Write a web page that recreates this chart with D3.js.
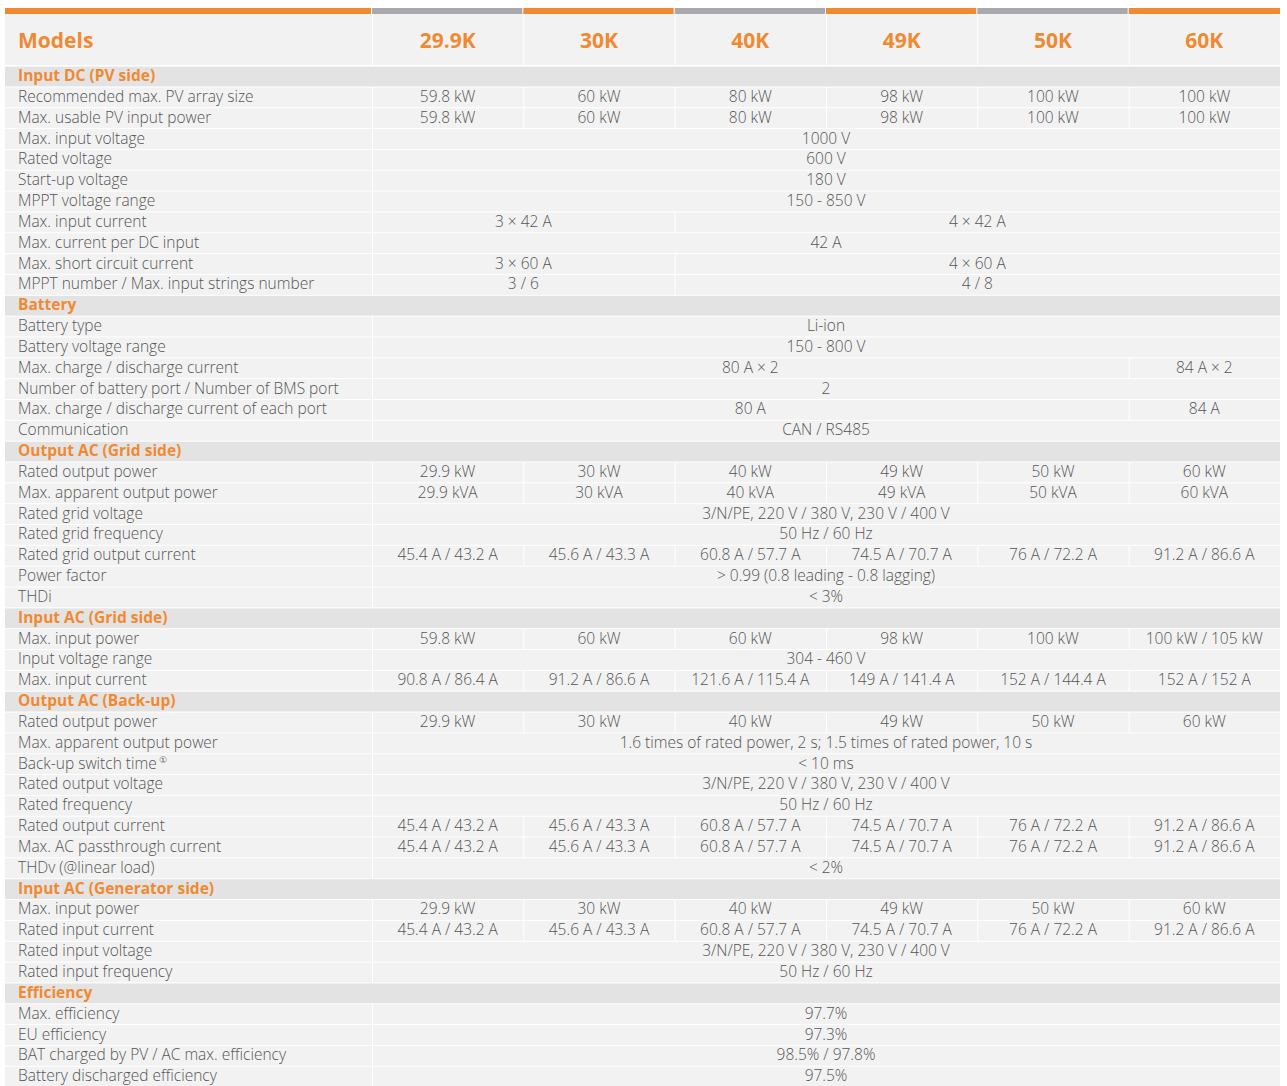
<!DOCTYPE html>
<html><head><meta charset="utf-8">
<script src="https://cdn.jsdelivr.net/npm/d3@7"></script>
<style>body{margin:0;background:#fff}</style>
</head><body><div id="mainDiv"></div>
<script>
var models = ["29.9K", "30K", "40K", "49K", "50K", "60K"];
var barColors = ["#f08a32", "#a7a9ac", "#f08a32", "#a7a9ac", "#f08a32", "#a7a9ac", "#f08a32"];

// rows: section title as string, or [label, [[text, span], ...]]
var rows = [
  "Input DC (PV side)",
  ["Recommended max. PV array size", [["59.8 kW",1],["60 kW",1],["80 kW",1],["98 kW",1],["100 kW",1],["100 kW",1]]],
  ["Max. usable PV input power", [["59.8 kW",1],["60 kW",1],["80 kW",1],["98 kW",1],["100 kW",1],["100 kW",1]]],
  ["Max. input voltage", [["1000 V",6]]],
  ["Rated voltage", [["600 V",6]]],
  ["Start-up voltage", [["180 V",6]]],
  ["MPPT voltage range", [["150 - 850 V",6]]],
  ["Max. input current", [["3 × 42 A",2],["4 × 42 A",4]]],
  ["Max. current per DC input", [["42 A",6]]],
  ["Max. short circuit current", [["3 × 60 A",2],["4 × 60 A",4]]],
  ["MPPT number / Max. input strings number", [["3 / 6",2],["4 / 8",4]]],
  "Battery",
  ["Battery type", [["Li-ion",6]]],
  ["Battery voltage range", [["150 - 800 V",6]]],
  ["Max. charge / discharge current", [["80 A × 2",5],["84 A × 2",1]]],
  ["Number of battery port / Number of BMS port", [["2",6]]],
  ["Max. charge / discharge current of each port", [["80 A",5],["84 A",1]]],
  ["Communication", [["CAN / RS485",6]]],
  "Output AC (Grid side)",
  ["Rated output power", [["29.9 kW",1],["30 kW",1],["40 kW",1],["49 kW",1],["50 kW",1],["60 kW",1]]],
  ["Max. apparent output power", [["29.9 kVA",1],["30 kVA",1],["40 kVA",1],["49 kVA",1],["50 kVA",1],["60 kVA",1]]],
  ["Rated grid voltage", [["3/N/PE, 220 V / 380 V, 230 V / 400 V",6]]],
  ["Rated grid frequency", [["50 Hz / 60 Hz",6]]],
  ["Rated grid output current", [["45.4 A / 43.2 A",1],["45.6 A / 43.3 A",1],["60.8 A / 57.7 A",1],["74.5 A / 70.7 A",1],["76 A / 72.2 A",1],["91.2 A / 86.6 A",1]]],
  ["Power factor", [["> 0.99 (0.8 leading - 0.8 lagging)",6]]],
  ["THDi", [["< 3%",6]]],
  "Input AC (Grid side)",
  ["Max. input power", [["59.8 kW",1],["60 kW",1],["60 kW",1],["98 kW",1],["100 kW",1],["100 kW / 105 kW",1]]],
  ["Input voltage range", [["304 - 460 V",6]]],
  ["Max. input current", [["90.8 A / 86.4 A",1],["91.2 A / 86.6 A",1],["121.6 A / 115.4 A",1],["149 A / 141.4 A",1],["152 A / 144.4 A",1],["152 A / 152 A",1]]],
  "Output AC (Back-up)",
  ["Rated output power", [["29.9 kW",1],["30 kW",1],["40 kW",1],["49 kW",1],["50 kW",1],["60 kW",1]]],
  ["Max. apparent output power", [["1.6 times of rated power, 2 s; 1.5 times of rated power, 10 s",6]]],
  ["Back-up switch time", [["< 10 ms",6]]],
  ["Rated output voltage", [["3/N/PE, 220 V / 380 V, 230 V / 400 V",6]]],
  ["Rated frequency", [["50 Hz / 60 Hz",6]]],
  ["Rated output current", [["45.4 A / 43.2 A",1],["45.6 A / 43.3 A",1],["60.8 A / 57.7 A",1],["74.5 A / 70.7 A",1],["76 A / 72.2 A",1],["91.2 A / 86.6 A",1]]],
  ["Max. AC passthrough current", [["45.4 A / 43.2 A",1],["45.6 A / 43.3 A",1],["60.8 A / 57.7 A",1],["74.5 A / 70.7 A",1],["76 A / 72.2 A",1],["91.2 A / 86.6 A",1]]],
  ["THDv (@linear load)", [["< 2%",6]]],
  "Input AC (Generator side)",
  ["Max. input power", [["29.9 kW",1],["30 kW",1],["40 kW",1],["49 kW",1],["50 kW",1],["60 kW",1]]],
  ["Rated input current", [["45.4 A / 43.2 A",1],["45.6 A / 43.3 A",1],["60.8 A / 57.7 A",1],["74.5 A / 70.7 A",1],["76 A / 72.2 A",1],["91.2 A / 86.6 A",1]]],
  ["Rated input voltage", [["3/N/PE, 220 V / 380 V, 230 V / 400 V",6]]],
  ["Rated input frequency", [["50 Hz / 60 Hz",6]]],
  "Efficiency",
  ["Max. efficiency", [["97.7%",6]]],
  ["EU efficiency", [["97.3%",6]]],
  ["BAT charged by PV / AC max. efficiency", [["98.5% / 97.8%",6]]],
  ["Battery discharged efficiency", [["97.5%",6]]]
];

var W = 1287, H = 1086;
var svg = d3.select("#mainDiv").append("svg").attr("width", W).attr("height", H)
  .style("font-family", "'Source Sans Pro','Open Sans',sans-serif");

var left = 5, labelW = 367, right = 1280;
var x = d3.scaleLinear().domain([0, 6]).range([left + labelW, right]);
var y = d3.scaleLinear().domain([0, rows.length]).range([65.6, 1086.6]);
var rh = y(1) - y(0);
var orange = "#f08a32", txt = "#555";

// top coloured bars
var barX = [left].concat(d3.range(1, 7).map(function(i){ return x(i - 1); }));
var barEnd = d3.range(0, 7).map(function(i){ return x(i); });
barX.forEach(function(bx, i){
  svg.append("rect").attr("x", bx).attr("y", 8).attr("width", barEnd[i] - bx - (i < 6 ? 1 : 0)).attr("height", 6).attr("fill", barColors[i]);
});
// header
svg.append("rect").attr("x", left).attr("y", 14).attr("width", labelW).attr("height", 51).attr("fill", "#f2f2f2");
models.forEach(function(m, i){
  svg.append("rect").attr("x", x(i) + 1).attr("y", 14).attr("width", x(1) - x(0) - 1).attr("height", 51).attr("fill", "#f2f2f2");
  svg.append("text").attr("x", (x(i) + x(i + 1)) / 2).attr("y", 48).attr("text-anchor", "middle")
    .attr("fill", orange).attr("font-weight", "bold").attr("font-size", 21).text(m);
});
svg.append("text").attr("x", 18).attr("y", 48).attr("fill", orange).attr("font-weight", "bold").attr("font-size", 21).text("Models");

rows.forEach(function(r, i){
  var top = y(i) + 1, h = rh - 1, cy = y(i) + rh / 2 + 5;
  if (typeof r === "string") {
    svg.append("rect").attr("x", left).attr("y", top).attr("width", right - left).attr("height", h).attr("fill", "#e3e3e3");
    svg.append("text").attr("x", 18).attr("y", cy).attr("fill", orange).attr("font-weight", "bold").attr("font-size", 15.5).text(r);
    return;
  }
  svg.append("rect").attr("x", left).attr("y", top).attr("width", labelW).attr("height", h).attr("fill", "#f2f2f2");
  var lab = svg.append("text").attr("x", 18).attr("y", cy).attr("fill", txt).attr("font-size", 15.5).attr("font-weight", 300).text(r[0]);
  if (r[0] === "Back-up switch time") lab.append("tspan").attr("dy", -6).attr("font-size", 9).text(" ①");
  var c = 0;
  r[1].forEach(function(cell){
    var x0 = x(c) + 1, x1 = x(c + cell[1]);
    svg.append("rect").attr("x", x0).attr("y", top).attr("width", x1 - x0).attr("height", h).attr("fill", "#f2f2f2");
    svg.append("text").attr("x", (x(c) + x1) / 2).attr("y", cy).attr("text-anchor", "middle")
      .attr("fill", txt).attr("font-size", 15.5).attr("font-weight", 300).text(cell[0]);
    c += cell[1];
  });
});
</script></body></html>
